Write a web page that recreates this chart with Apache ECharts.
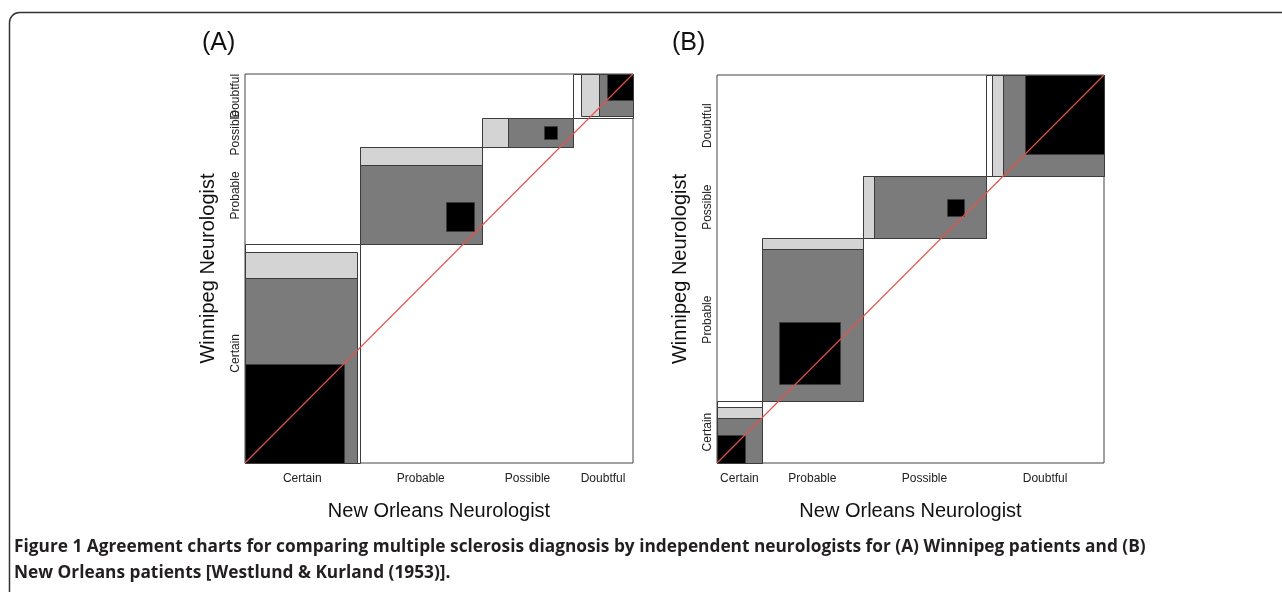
<!DOCTYPE html>
<html>
<head>
<meta charset="utf-8">
<script src="https://cdn.jsdelivr.net/npm/echarts@6/dist/echarts.min.js"></script>
<style>
html,body{margin:0;padding:0;background:#fff;}
#chart{width:1282px;height:592px;}
</style>
</head>
<body>
<div id="chart"></div>
<script>
// Categories (diagnosis levels)
const categories = ['Certain', 'Probable', 'Possible', 'Doubtful'];
// Rows: New Orleans neurologist (x), columns: Winnipeg neurologist (y)
const winnipegPatients = [
  [38, 5, 0, 1],
  [33, 11, 3, 0],
  [10, 14, 5, 6],
  [3, 7, 3, 10]
];
const newOrleansPatients = [
  [5, 3, 0, 0],
  [3, 11, 4, 0],
  [2, 13, 3, 4],
  [1, 2, 4, 14]
];
const panelTitles = ['(A)', '(B)'];
const xAxisTitle = 'New Orleans Neurologist';
const yAxisTitle = 'Winnipeg Neurologist';
const captionBold = 'Figure 1';
const captionLine1 = ' Agreement charts for comparing multiple sclerosis diagnosis by independent neurologists for (A) Winnipeg patients and (B)';
const captionLine2 = 'New Orleans patients [Westlund & Kurland (1953)].';

// ---- build agreement chart rectangles (Bangdiwala) from a table ----
function sum(arr) { return arr.reduce((a, b) => a + b, 0); }
function buildAgreement(M) {
  const n = M.length;
  const rowSums = M.map(r => sum(r));
  const colSums = M[0].map((_, j) => sum(M.map(r => r[j])));
  const total = sum(rowSums);
  const xc = [0], yc = [0];
  for (let i = 0; i < n; i++) { xc.push(xc[i] + rowSums[i]); yc.push(yc[i] + colSums[i]); }
  const rects = [];
  for (let i = 0; i < n; i++) {
    // level 3 = outer white box
    rects.push([xc[i], yc[i], xc[i] + rowSums[i], yc[i] + colSums[i], 3]);
    for (let q = 2; q >= 0; q--) {
      const lo = Math.max(0, i - q), hi = Math.min(n - 1, i + q);
      let xoff = 0, w = 0, yoff = 0, h = 0;
      for (let b = 0; b < lo; b++) xoff += M[i][b];
      for (let b = lo; b <= hi; b++) w += M[i][b];
      for (let a = 0; a < lo; a++) yoff += M[a][i];
      for (let a = lo; a <= hi; a++) h += M[a][i];
      rects.push([xc[i] + xoff, yc[i] + yoff, xc[i] + xoff + w, yc[i] + yoff + h, q]);
    }
  }
  const xMid = rowSums.map((s, i) => xc[i] + s / 2);
  const yMid = colSums.map((s, i) => yc[i] + s / 2);
  return { rects, total, xMid, yMid };
}
const A = buildAgreement(winnipegPatients);
const B = buildAgreement(newOrleansPatients);
const panels = [A, B];

const fills = ['#000000', '#7b7b7b', '#d4d4d4', '#ffffff'];
function renderItem(params, api) {
  const p0 = api.coord([api.value(0), api.value(1)]);
  const p1 = api.coord([api.value(2), api.value(3)]);
  const lvl = api.value(4);
  const x0 = Math.round(p0[0]) + 0.5, x1 = Math.round(p1[0]) + 0.5;
  const y0 = Math.round(p0[1]) + 0.5, y1 = Math.round(p1[1]) + 0.5;
  return {
    type: 'rect',
    shape: { x: x0, y: y1, width: x1 - x0, height: y0 - y1 },
    style: { fill: fills[lvl], stroke: '#3c3c3c', lineWidth: 1 }
  };
}
// y-axis category labels (rotated), placed at the middle of each category band
function renderYLabel(params, api) {
  const p = api.coord([0, api.value(0)]);
  return {
    type: 'text',
    x: p[0] - 3, y: p[1],
    rotation: Math.PI / 2,
    style: {
      text: categories[api.value(1)], x: 0, y: 0,
      align: 'center', verticalAlign: 'bottom',
      fontFamily: 'Liberation Sans', fontSize: 12, fill: '#222'
    }
  };
}

function nearestLabel(mids) {
  return function (v) {
    let best = 0, bd = Infinity;
    mids.forEach((m, i) => { const d = Math.abs(m - v); if (d < bd) { bd = d; best = i; } });
    return categories[best];
  };
}

const grids = [
  { left: 245, top: 74, width: 388, height: 389 },
  { left: 717, top: 75, width: 387, height: 388 }
];
const labelFont = { fontFamily: 'Liberation Sans', fontSize: 12, color: '#222' };
const nameFont = { fontFamily: 'Liberation Sans', fontSize: 20, color: '#111' };

const option = {
  animation: false,
  backgroundColor: '#ffffff',
  title: panelTitles.map((t, i) => ({
    text: t, left: i === 0 ? 197 : 667, top: 26,
    textStyle: { fontFamily: 'Liberation Sans', fontSize: 25, fontWeight: 'normal', color: '#111' }
  })),
  grid: grids.map(g => Object.assign({ show: true, borderColor: '#444', borderWidth: 1, backgroundColor: '#fff', containLabel: false }, g)),
  xAxis: panels.map((p, i) => ({
    type: 'value', gridIndex: i, min: 0, max: p.total,
    name: xAxisTitle, nameLocation: 'middle', nameGap: 38, nameTextStyle: nameFont,
    axisLine: { show: false }, axisTick: { show: false }, splitLine: { show: false },
    axisLabel: Object.assign({ customValues: p.xMid, formatter: nearestLabel(p.xMid), margin: 10, hideOverlap: false }, labelFont)
  })),
  yAxis: panels.map((p, i) => ({
    type: 'value', gridIndex: i, min: 0, max: p.total,
    name: yAxisTitle, nameLocation: 'middle', nameGap: 27, nameTextStyle: nameFont,
    axisLine: { show: false }, axisTick: { show: false }, splitLine: { show: false },
    axisLabel: { show: false }
  })),
  series: [].concat(
    panels.map((p, i) => ({
      type: 'custom', xAxisIndex: i, yAxisIndex: i, renderItem: renderItem,
      data: p.rects, clip: false, silent: true, z: 2
    })),
    panels.map((p, i) => ({
      type: 'custom', xAxisIndex: i, yAxisIndex: i, renderItem: renderYLabel,
      data: p.yMid.map((m, k) => [m, k]), encode: { y: 0 }, clip: false, silent: true, z: 3
    })),
    panels.map((p, i) => ({
      type: 'line', xAxisIndex: i, yAxisIndex: i, data: [[0, 0], [p.total, p.total]],
      symbol: 'none', lineStyle: { color: '#e5534b', width: 1.1 }, silent: true, z: 6
    }))
  ),
  graphic: [
    {
      type: 'rect', shape: { x: 9.5, y: 12.5, width: 1400, height: 700, r: 10 },
      style: { fill: 'none', stroke: '#333', lineWidth: 1.5 }, silent: true, z: 10
    },
    {
      type: 'text', left: 14, top: 539,
      style: {
        text: '{b|' + captionBold + '}{n|' + captionLine1 + '}\n{n|' + captionLine2 + '}',
        rich: {
          b: { fontFamily: 'Open Sans', fontWeight: 'bold', fontSize: 17.3, fill: '#231f20', lineHeight: 26 },
          n: { fontFamily: 'Open Sans', fontWeight: 'bold', fontSize: 17.3, fill: '#231f20', lineHeight: 26 }
        }
      }, z: 10
    }
  ]
};

const chart = echarts.init(document.getElementById('chart'), null, { renderer: 'canvas' });
chart.setOption(option);
</script>
</body>
</html>
